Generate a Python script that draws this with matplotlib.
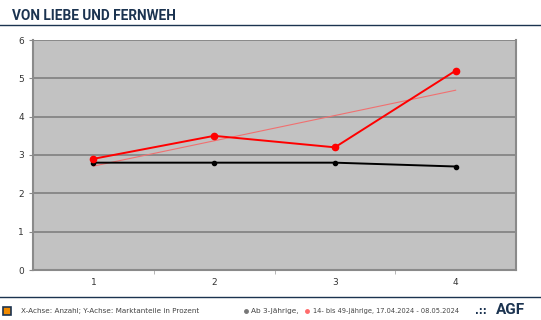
import numpy as np
import matplotlib.pyplot as plt
from matplotlib.patches import Rectangle
from matplotlib.lines import Line2D

x = [1, 2, 3, 4]
ab3 = [2.8, 2.8, 2.8, 2.7]
j14_49 = [2.9, 3.5, 3.2, 5.2]
yticks = [0, 1, 2, 3, 4, 5, 6]

title = "VON LIEBE UND FERNWEH"
axis_note = "X-Achse: Anzahl; Y-Achse: Marktanteile in Prozent"
legend_ab3 = "Ab 3-Jährige,"
legend_1449 = "14- bis 49-Jährige, 17.04.2024 - 08.05.2024"

navy = "#1b3350"

fig = plt.figure(figsize=(5.41, 3.2), dpi=100)
W, H = 541, 320

# plot area
ax = fig.add_axes([33 / W, 1 - 270 / H, (516 - 33) / W, (270 - 40) / H])
ax.set_facecolor("#c2c2c2")
ax.set_xlim(0.5, 4.5)
ax.set_ylim(0, 6)
ax.set_yticks(yticks)
ax.set_xticks(x)
ax.set_xticks([1.5, 2.5, 3.5], minor=True)
ax.yaxis.grid(True, color="#858585", linewidth=1.3)
ax.set_axisbelow(True)
for s in ["left", "bottom", "right"]:
    ax.spines[s].set_color("#8a8a8a")
    ax.spines[s].set_linewidth(1.5)
ax.spines["top"].set_visible(False)
ax.tick_params(axis="y", labelsize=6.5, colors="#8a8a8a", labelcolor="#333333", length=3)
ax.tick_params(axis="x", which="major", labelsize=6.5, labelcolor="#333333", length=0, pad=6)
ax.tick_params(axis="x", which="minor", colors="#aaaaaa", length=3)

# trend line for the 14-49 series
xa = np.array(x)
k, b = np.polyfit(xa, j14_49, 1)
ax.plot(xa, k * xa + b, color="#f07070", linewidth=0.8, zorder=2)

ax.plot(x, ab3, color="black", linewidth=1.4, marker="o", markersize=3, zorder=3)
ax.plot(x, j14_49, color="#ff0000", linewidth=1.4, marker="o", markersize=4.5, zorder=4)

# header
fig.text(12 / W, 1 - 16 / H, title, fontsize=9.8, fontweight="bold", color=navy, va="center",
         family="Roboto")
fig.add_artist(Line2D([0, 1], [1 - 24.5 / H, 1 - 24.5 / H], color=navy, linewidth=1.0))

# footer
fig.add_artist(Line2D([0, 1], [1 - 297 / H, 1 - 297 / H], color=navy, linewidth=1.0))
fy = 1 - 310.5 / H
fig.add_artist(Rectangle((3 / W, 1 - 315 / H), 8 / W, 8 / H, facecolor="#f08a00", edgecolor=navy, linewidth=1.2))
fig.text(21 / W, fy, axis_note, fontsize=5.2, color="#444444", va="center")
fig.add_artist(Line2D([246 / W], [fy], marker="o", markersize=2.5, color="#777777"))
fig.text(251 / W, fy, legend_ab3, fontsize=5.3, color="#444444", va="center")
fig.add_artist(Line2D([307 / W], [fy], marker="o", markersize=2.5, color="#ff6b6b"))
fig.text(313 / W, fy, legend_1449, fontsize=4.8, color="#444444", va="center")
fig.text(481 / W, fy, ".::", fontsize=7, color=navy, va="center", ha="center", fontweight="bold")
fig.text(510 / W, fy, "AGF", fontsize=11, color=navy, va="center", ha="center",
         family="Roboto", fontweight="bold")

fig.savefig("out.png", dpi=100)
